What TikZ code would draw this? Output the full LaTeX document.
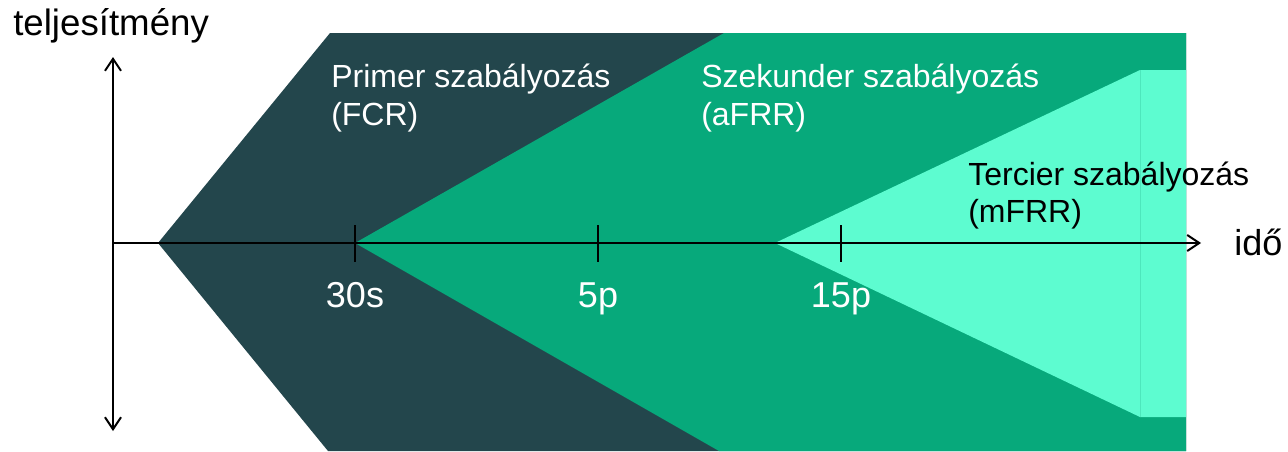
\documentclass[tikz,border=0pt]{standalone}
\usepackage{fontspec}
\setmainfont{Liberation Sans}
\usetikzlibrary{arrows.meta}
\definecolor{darkteal}{HTML}{23464C}
\definecolor{midgreen}{HTML}{07A97B}
\definecolor{mint}{HTML}{5DFCD0}
\definecolor{mintline}{HTML}{4DE6BC}
\tikzset{
  axis/.style={line width=1.5pt, black},
  tick/.style={line width=1.5pt, black},
  myb/.tip={Straight Barb[length=9pt,width=12pt,line width=1.5pt]},
  lbl/.style={inner sep=0pt, anchor=base west, font=\fontsize{24}{28}\selectfont},
  big/.style={inner sep=0pt, font=\fontsize{27}{32}\selectfont},
}
\begin{document}
\begin{tikzpicture}[x=0.75pt,y=-0.75pt]
\useasboundingbox (0,0) rectangle (1288,451);
% regions
\fill[darkteal] (158,243) -- (330,33) -- (1186,33) -- (1186,451) -- (328,451) -- cycle;
\fill[midgreen] (355,243) -- (724,33) -- (1186,33) -- (1186,451) -- (719,451) -- cycle;
\fill[mint] (775,243) -- (1140,70) -- (1186,70) -- (1186,417) -- (1140,417) -- cycle;
\draw[mintline, line width=0.75pt] (1140,70) -- (1140,417);
% labels
\node[lbl, white] (fcr1) at (331,87) {Primer szabályozás};
\node[lbl, white] (fcr2) at (331,125) {(FCR)};
\node[lbl, white] (afrr1) at (701,87) {Szekunder szabályozás};
\node[lbl, white] (afrr2) at (701,125) {(aFRR)};
\node[lbl, black] (mfrr1) at (968,185) {Tercier szabályozás};
\node[lbl, black] (mfrr2) at (968,222) {(mFRR)};
% axes
\coordinate (ytop) at (113,57);
\coordinate (ybot) at (113,431);
\coordinate (xorig) at (113,243);
\coordinate (xend) at (1201,243);
\draw[axis, {myb}-{myb}] (ybot) -- (ytop);
\draw[axis, -{myb}] (xorig) -- (xend);
\node[big, anchor=base west, font=\fontsize{27.5}{32}\selectfont] (ylab) at (13,35) {teljesítmény};
\node[big, anchor=base west] (xlab) at (1234,255) {idő};
% ticks
\foreach \x/\t/\n in {355/30s/a, 598/5p/b, 841/15p/c}{
  \coordinate (t\n top) at (\x,225);
  \coordinate (t\n bot) at (\x,262);
  \draw[tick] (t\n top) -- (t\n bot);
  \node[big, white, anchor=base] (l\n) at (\x,307) {\t};
}
\end{tikzpicture}
\end{document}
